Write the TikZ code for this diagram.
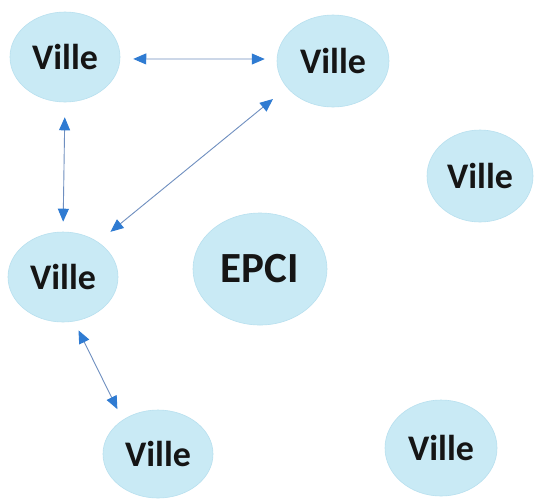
\documentclass[tikz,border=0pt]{standalone}
\usepackage{fontspec}
\setmainfont{Carlito}
\usetikzlibrary{shapes.geometric,arrows.meta}
\definecolor{bubble}{HTML}{C9EAF5}
\definecolor{bubbleedge}{HTML}{B8E0EF}
\definecolor{linkline}{HTML}{6F8FC0}
\definecolor{tipblue}{HTML}{2F7BD2}
\definecolor{txt}{HTML}{151515}
\tikzset{
  ville/.style={ellipse, fill=bubble, draw=bubbleedge, line width=0.6pt, inner sep=0pt,
    text=txt, font=\bfseries\fontsize{36}{40}\selectfont},
  link/.style={linkline, line width=0.9pt,
    {Triangle[length=13pt,width=11pt,color=tipblue]}-{Triangle[length=13pt,width=11pt,color=tipblue]}}
}
\begin{document}
\begin{tikzpicture}[x=1pt,y=-1pt]
\path[fill=white] (0,0) rectangle (534,499);
\useasboundingbox (0,0) rectangle (534,499);
\node[ville, minimum width=110pt, minimum height=90pt] (v1) at (65,57) {Ville};
\node[ville, minimum width=112pt, minimum height=92pt] (v2) at (333,61) {Ville};
\node[ville, minimum width=106pt, minimum height=92pt] (v3) at (480,176) {Ville};
\node[ville, minimum width=110pt, minimum height=90pt] (v4) at (63,277) {Ville};
\node[ville, minimum width=134pt, minimum height=112pt, font=\bfseries\fontsize{43}{46}\selectfont] (e) at (260,269) {EPCI};
\node[ville, minimum width=110pt, minimum height=88pt] (v5) at (158,454) {Ville};
\node[ville, minimum width=112pt, minimum height=96pt] (v6) at (441,448) {Ville};
\draw[link, shorten <=13pt, shorten >=12pt] (v1.-2) -- (v2.178);
\draw[link, shorten <=15pt, shorten >=10pt] (v1.south) -- (v4.north);
\draw[link, shorten <=16pt, shorten >=18pt] (v4.45) -- (v2.210);
\draw[link, shorten <=10pt, shorten >=12pt] (v4.-76) -- (v5.136);
\end{tikzpicture}
\end{document}
